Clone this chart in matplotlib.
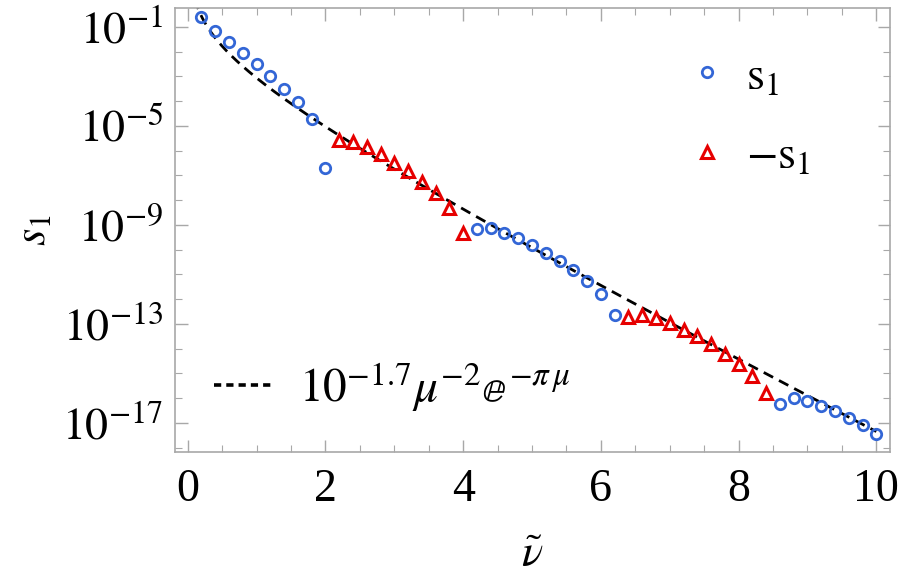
import numpy as np
import matplotlib.pyplot as plt
from matplotlib.lines import Line2D
from matplotlib.ticker import FixedLocator, MultipleLocator, NullFormatter

plt.rcParams["font.family"] = ["Liberation Serif", "DejaVu Serif"]
plt.rcParams["mathtext.fontset"] = "stix"

# nu-tilde sample points
nu = np.round(np.arange(1, 51) * 0.2, 1)

# s1 values (sign kept: negative ones are drawn as -s1)
s1 = np.array([
    2.4e-1, 6.9e-2, 2.4e-2, 8.9e-3, 3.1e-3, 1.0e-3, 3.2e-4, 9.3e-5, 1.9e-5, 2.0e-7,
    -2.6e-6, -2.2e-6, -1.4e-6, -7.2e-7, -3.3e-7, -1.5e-7, -5.5e-8, -1.9e-8, -4.9e-9, -4.8e-10,
    6.8e-10, 7.4e-10, 4.9e-10, 3.0e-10, 1.6e-10, 7.6e-11, 3.5e-11, 1.5e-11, 5.5e-12, 1.6e-12,
    2.2e-13,
    -1.9e-13, -2.4e-13, -1.7e-13, -1.1e-13, -5.9e-14, -3.3e-14, -1.5e-14, -6.3e-15, -2.5e-15,
    -7.9e-16, -1.6e-16,
    5.8e-17, 9.8e-17, 7.6e-17, 4.9e-17, 3.0e-17, 1.6e-17, 8.1e-18, 3.5e-18,
])

fit_coef = 10 ** -1.7
x_ticks = [0, 2, 4, 6, 8, 10]
y_ticks = [1e-1, 1e-5, 1e-9, 1e-13, 1e-17]
y_tick_labels = [r"$10^{-1}$", r"$10^{-5}$", r"$10^{-9}$", r"$10^{-13}$", r"$10^{-17}$"]

blue = "#3366d6"
red = "#e60000"
frame = "#a8a8a8"


def main():
    fig = plt.figure(figsize=(9, 5.78), dpi=100)
    ax = fig.add_axes([0.194, 0.218, 0.795, 0.768])

    mu = np.linspace(0.1, 10, 600)
    ax.plot(mu, fit_coef * mu ** -2 * np.exp(-np.pi * mu), color="black",
            lw=2.0, dashes=(3.8, 2.4))

    pos = s1 > 0
    neg = ~pos
    ax.plot(nu[pos], s1[pos], "o", ms=7.5, mfc="none", mec=blue, mew=2.0)
    ax.plot(nu[neg], -s1[neg], "^", ms=8.5, mfc="none", mec=red, mew=2.2)

    ax.set_yscale("log")
    ax.set_xlim(-0.19, 10.2)
    ax.set_ylim(10 ** -18.17, 10 ** -0.245)

    ax.xaxis.set_major_locator(FixedLocator(x_ticks))
    ax.xaxis.set_minor_locator(MultipleLocator(0.5))
    ax.set_xticklabels([str(t) for t in x_ticks])
    ax.yaxis.set_major_locator(FixedLocator(y_ticks))
    ax.yaxis.set_minor_locator(FixedLocator([10.0 ** -k for k in range(0, 20)]))
    ax.yaxis.set_minor_formatter(NullFormatter())
    ax.set_yticklabels(y_tick_labels)

    ax.tick_params(which="both", direction="in", top=True, right=True,
                   color=frame, labelsize=33, labelcolor="black")
    ax.tick_params(axis="x", which="major", length=9, width=1.0, pad=12)
    ax.tick_params(axis="y", which="major", length=9, width=1.0, pad=8)
    ax.tick_params(which="minor", length=5, width=0.8)
    for sp in ax.spines.values():
        sp.set_color(frame)
        sp.set_linewidth(1.2)

    ax.set_xlabel(r"$\tilde{\nu}$", fontsize=32, labelpad=18)
    ax.set_ylabel(r"$s_1$", fontsize=32, labelpad=6)

    h_pos = Line2D([], [], ls="none", marker="o", ms=7.5, mfc="none", mec=blue, mew=2.0)
    h_neg = Line2D([], [], ls="none", marker="^", ms=8.5, mfc="none", mec=red, mew=2.2)
    leg1 = ax.legend([h_pos, h_neg], [r"$\mathrm{s}_1$", r"$-\mathrm{s}_1$"],
                     loc="upper left", bbox_to_anchor=(0.655, 0.985), frameon=False,
                     fontsize=33, labelspacing=0.8, handletextpad=0.35,
                     handlelength=1.0)
    ax.add_artist(leg1)

    h_fit = Line2D([], [], color="black", lw=2.6, dashes=(2.0, 1.4))
    ax.legend([h_fit], [r"$10^{-1.7}\mu^{-2}\mathbb{e}^{-\pi\,\mu}$"],
              loc="lower left", bbox_to_anchor=(-0.005, -0.01), frameon=False,
              fontsize=34, handlelength=1.3, handletextpad=0.5)

    fig.savefig("out.png", dpi=100)
    plt.close(fig)


if __name__ == "__main__":
    main()
